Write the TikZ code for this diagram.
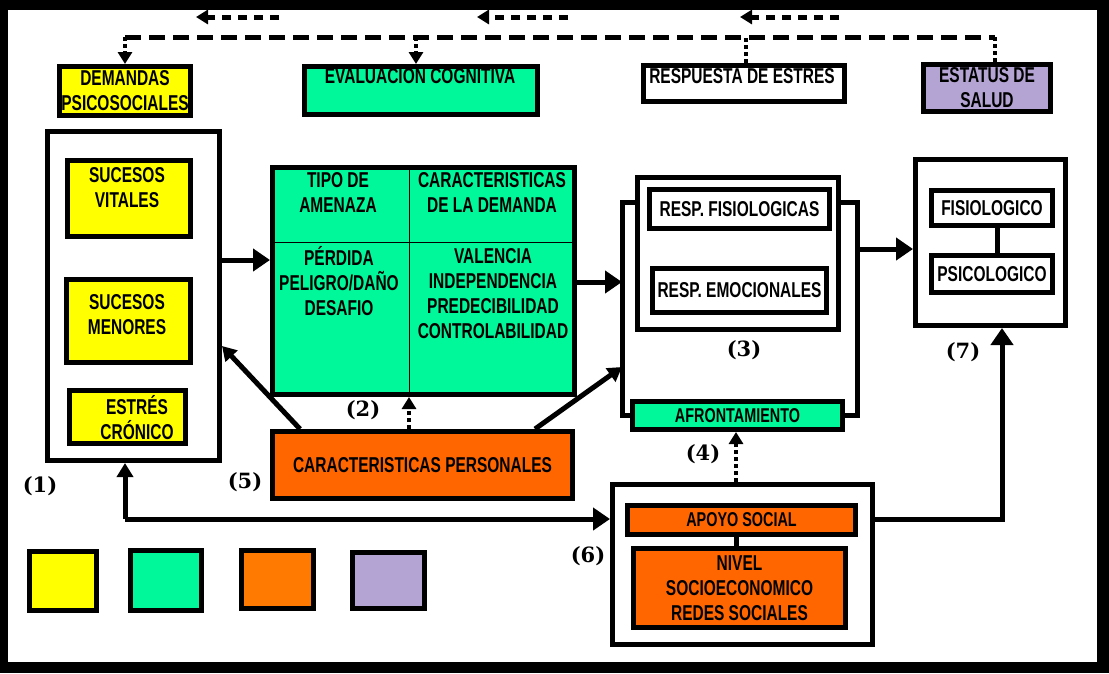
\documentclass[tikz,border=0pt]{standalone}
\usepackage{fontspec}
\setmainfont{Liberation Sans}[FakeStretch=0.72]
\newfontfamily\numfont{DejaVu Serif}
\usetikzlibrary{arrows.meta}
\definecolor{cyel}{HTML}{FFFF00}
\definecolor{cgrn}{HTML}{00F79A}
\definecolor{corg}{HTML}{FF6600}
\definecolor{corgl}{HTML}{FF7A00}
\definecolor{clav}{HTML}{B4A4D4}
\begin{document}
\begin{tikzpicture}[x=1pt,y=-1pt,
  box/.style={draw=black, line width=5pt, inner sep=0pt},
  bx/.style 2 args={minimum width=#1pt, minimum height=#2pt},
  tx/.style={font=\bfseries\fontsize{21.5}{25}\selectfont, align=center, inner sep=0pt},
  txs/.style={font=\bfseries\fontsize{20}{25}\selectfont, align=center, inner sep=0pt},
  num/.style={font=\numfont\bfseries\fontsize{21}{24}\selectfont, inner sep=0pt},
  conn/.style={line width=5pt},
  bigarr/.style={-{Triangle[length=17pt,width=22pt]}},
  midarr/.style={-{Triangle[length=14pt,width=16pt]}},
  smallarr/.style={-{Triangle[length=12pt,width=14pt]}},
  dashl/.style={line width=5pt, dash pattern=on 16pt off 8pt},
  dasha/.style={line width=5pt, dash pattern=on 9pt off 7pt},
  dotl/.style={line width=4pt, dash pattern=on 4pt off 3pt}]
\useasboundingbox (0,0) rectangle (1109,673);
\fill[black] (0,0) rectangle (1109,673);
\fill[white] (8,10) rectangle (1097,662);

% top row boxes
\node[box, fill=cyel, bx={131}{49}, tx] (dem) at (125,91) {DEMANDAS\\PSICOSOCIALES};
\node[box, fill=cgrn, bx={233}{48}] (eval) at (421,90.5) {};
\node[tx] (evaltxt) at (420,76) {EVALUACION COGNITIVA};
\node[box, fill=white, bx={201}{36}] (resp) at (744,83.5) {};
\node[tx] (resptxt) at (742,76) {RESPUESTA DE ESTRES};
\node[box, fill=clav, bx={127}{47}, tx] (est) at (987,88) {ESTATUS DE\\SALUD};

% top dashed feedback line
\coordinate (tl) at (125,37);
\coordinate (tr) at (995,37);
\coordinate (te) at (416,37);
\coordinate (tresp) at (746,37);
\draw[dashl] (tl) -- (tr);
\draw[dotl, smallarr] (tl) -- (dem.north);
\draw[dotl, smallarr] (te) -- (te |- eval.north);
\draw[dotl] (tresp |- resp.north) -- (tresp);
\draw[dotl] (tr) -- (tr |- est.north);

% top left-pointing arrows
\coordinate (a1s) at (279,17); \coordinate (a1e) at (196,17);
\coordinate (a2s) at (568,17); \coordinate (a2e) at (477,17);
\coordinate (a3s) at (839,17); \coordinate (a3e) at (740,17);
\draw[dasha, smallarr] (a1s) -- (a1e);
\draw[dasha, smallarr] (a2s) -- (a2e);
\draw[dasha, smallarr] (a3s) -- (a3e);

% box (1)
\node[box, fill=white, bx={172}{329}] (b1) at (133.5,296) {};
\node[box, fill=cyel, bx={123}{76}] (sv) at (129,198.5) {};
\node[tx] (svt) at (127,187.5) {SUCESOS\\VITALES};
\node[box, fill=cyel, bx={124}{83}] (sm) at (128.5,321) {};
\node[tx] (smt) at (127,315) {SUCESOS\\MENORES};
\node[box, fill=cyel, bx={116}{53}] (ec) at (127.5,417) {};
\node[tx] (ect) at (137,417.5) {ESTRÉS\\CRÓNICO};

% green grid (2)
\node[box, fill=cgrn, bx={302}{227}] (cog) at (423.5,281) {};
\coordinate (vd) at (409,242);
\draw[line width=1pt] (vd |- cog.north) -- (vd |- cog.south);
\draw[line width=1pt] (vd -| cog.west) -- (vd -| cog.east);
\node[tx] (q1) at (338,192) {TIPO DE\\AMENAZA};
\node[tx] (q2) at (492,192) {CARACTERISTICAS\\DE LA DEMANDA};
\node[tx] (q3) at (339,281) {PÉRDIDA\\PELIGRO/DAÑO\\DESAFIO};
\node[tx] (q4) at (493,294) {VALENCIA\\INDEPENDENCIA\\PREDECIBILIDAD\\CONTROLABILIDAD};

% personal characteristics
\node[box, fill=corg, bx={300}{67}, tx] (pers) at (422.5,465) {CARACTERISTICAS PERSONALES};

% box (3)
\node[box, fill=white, bx={201}{152}] (b3) at (738,253.5) {};
\node[box, fill=white, bx={180}{39}, tx] (rf) at (739.5,209) {RESP. FISIOLOGICAS};
\node[box, fill=white, bx={174}{44}, tx] (re) at (739.5,290.5) {RESP. EMOCIONALES};
\node[box, fill=cgrn, bx={210}{28}, txs] (afr) at (737.5,415.5) {AFRONTAMIENTO};
\coordinate (bl) at (622,202);
\coordinate (br) at (857,202);
\draw[conn] (bl -| b3.west) -- (bl) -- (bl |- afr.west) -- (afr.west);
\draw[conn] (br -| b3.east) -- (br) -- (br |- afr.east) -- (afr.east);

% box (7)
\node[box, fill=white, bx={150}{166}] (b7) at (990.5,242.5) {};
\node[box, fill=white, bx={121}{35}, tx] (fis) at (992,208) {FISIOLOGICO};
\node[box, fill=white, bx={121}{37}, tx] (psi) at (992,274) {PSICOLOGICO};
\draw[conn] ([xshift=5pt]fis.south) -- ([xshift=5pt]psi.north);

% box (6)
\node[box, fill=white, bx={260}{160}] (b6) at (742.5,564.5) {};
\node[box, fill=corg, bx={228}{29}, txs] (apo) at (741.5,520) {APOYO SOCIAL};
\node[box, fill=corg, bx={212}{79}, tx] (niv) at (739.5,588) {NIVEL\\SOCIOECONOMICO\\REDES SOCIALES};
\coordinate (v4) at (736,450);
\draw[conn] (apo.south -| v4) -- (niv.north -| v4);

% connectors
\coordinate (c1) at (240,260);
\draw[conn, bigarr] (b1.east |- c1) -- (cog.west |- c1);
\coordinate (g2) at (622,282);
\draw[conn, bigarr] (g2 -| cog.east) -- (g2);
\coordinate (r7) at (857,249);
\draw[conn, bigarr] (r7) -- (r7 -| b7.west);
\draw[conn, midarr] ([xshift=30pt]pers.north west) -- ([yshift=-50pt]b1.east);
\coordinate (g3) at (622,367);
\draw[conn, midarr] ([xshift=-40pt]pers.north east) -- (g3);
\draw[dotl, smallarr] (pers.north -| vd) -- (cog.south -| vd);
\draw[dotl, smallarr] (b6.north -| v4) -- (afr.south -| v4);
\coordinate (k) at (125,519);
\draw[conn, midarr] (k) -- (k |- b1.south);
\draw[conn, bigarr] (k) -- (k -| b6.west);
\coordinate (k2) at (1002,519);
\draw[conn, bigarr] (b6.east |- k2) -- (k2) -- (k2 |- b7.south);

% number labels
\node[num] (n1) at (40,486) {(1)};
\node[num] (n2) at (363,410) {(2)};
\node[num] (n3) at (744,350) {(3)};
\node[num] (n4) at (703,454) {(4)};
\node[num] (n5) at (245,482) {(5)};
\node[num] (n6) at (588,556) {(6)};
\node[num] (n7) at (963,352) {(7)};

% legend squares
\node[box, fill=cyel, bx={67}{59}] (lg1) at (63,581) {};
\node[box, fill=cgrn, bx={71}{60}] (lg2) at (166,580.5) {};
\node[box, fill=corgl, bx={72}{58}] (lg3) at (277.5,579.5) {};
\node[box, fill=clav, bx={72}{56}] (lg4) at (388.5,580.5) {};
\end{tikzpicture}
\end{document}
